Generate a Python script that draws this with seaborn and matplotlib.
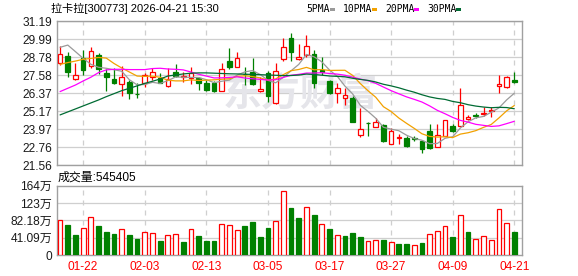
import numpy as np
import pandas as pd
import matplotlib
matplotlib.use("Agg")
import matplotlib.pyplot as plt
import seaborn as sns
from matplotlib.patches import Rectangle

# ---------------- data ----------------
title_text = "拉卡拉[300773] 2026-04-21 15:30"
volume_label = "成交量:545405"

opens = [28.38, 28.87, 27.36, 28.72, 28.20, 28.94, 27.76, 27.31, 26.98, 27.16,
         26.34, 27.09, 27.49, 27.42, 26.89, 27.80, 27.47, 27.38, 27.38, 27.09,
         27.04, 26.55, 28.54, 28.11, 27.69, 27.78, 26.51, 27.71, 25.75, 28.67,
         30.05, 28.69, 28.92, 29.01, 27.94, 27.20, 26.38, 26.04, 26.04, 23.59,
         24.42, 24.10, 24.24, 22.97, 23.37, 23.41, 23.37, 23.19, 23.86, 22.79,
         23.52, 24.17, 24.19, 24.64, 24.95, 25.00, 25.19, 26.87, 26.82, 27.27]
highs = [29.54, 29.12, 28.38, 29.27, 29.45, 29.10, 27.98, 28.09, 28.20, 27.27,
         27.09, 27.71, 28.05, 27.71, 28.05, 28.34, 27.82, 28.11, 27.49, 27.27,
         27.22, 28.38, 29.38, 29.12, 28.16, 28.72, 27.49, 27.89, 28.38, 30.05,
         30.39, 29.67, 30.28, 29.27, 28.78, 27.27, 27.09, 26.71, 26.20, 25.37,
         24.44, 24.75, 24.30, 24.04, 23.63, 23.52, 23.52, 23.25, 24.33, 24.30,
         24.59, 24.33, 26.71, 24.93, 25.04, 25.44, 25.44, 27.60, 27.53, 27.82]
lows = [28.27, 27.49, 27.27, 27.60, 28.09, 27.65, 26.55, 27.00, 26.22, 25.97,
        26.04, 26.78, 27.27, 27.04, 26.82, 27.45, 27.16, 27.00, 26.60, 26.55,
        26.46, 26.55, 27.98, 28.11, 26.93, 26.93, 26.46, 25.82, 25.66, 28.56,
        28.56, 28.60, 28.83, 26.75, 27.60, 26.33, 25.75, 25.60, 24.48, 23.43,
        23.52, 24.10, 23.14, 22.97, 22.99, 22.81, 23.21, 22.41, 22.68, 22.79,
        23.52, 23.77, 24.19, 24.59, 24.71, 24.86, 24.82, 26.38, 26.75, 27.04]
closes = [29.01, 27.82, 27.58, 27.94, 29.23, 28.00, 27.49, 27.09, 27.45, 26.38,
          26.31, 27.58, 27.82, 27.09, 27.31, 27.53, 27.50, 27.76, 27.04, 26.60,
          26.53, 27.98, 28.14, 28.72, 27.65, 27.00, 26.64, 26.20, 27.89, 29.50,
          29.16, 28.78, 29.54, 27.09, 27.82, 26.42, 26.71, 26.24, 24.48, 24.01,
          24.37, 24.44, 23.21, 23.86, 23.48, 22.88, 23.33, 22.63, 22.70, 23.57,
          24.59, 23.86, 25.57, 24.77, 24.88, 25.06, 25.26, 27.00, 27.45, 27.13]
volumes = [82, 71, 47, 65, 91, 69, 54, 50, 61, 47,
           38, 54, 52, 34, 47, 49, 31, 61, 45, 34,
           34, 73, 71, 59, 69, 78, 43, 64, 80, 151,
           111, 88, 113, 95, 73, 61, 47, 45, 52, 43,
           33, 35, 35, 31, 26, 26, 23, 28, 50, 58,
           68, 43, 95, 54, 39, 44, 35, 108, 77, 54.5405]  # 万

# moving-average values on the first bars (history before the window)
ma5_head = [29.45, 29.60, 29.16, 28.71]
ma10_head = [28.31, 28.43, 28.53, 28.65, 28.71, 28.77, 28.73, 28.37, 28.07]
ma20_head = [26.49, 26.71, 26.93, 27.20, 27.45, 27.76, 27.94, 27.98, 27.98, 27.96,
             27.96, 27.96, 28.03, 28.05, 28.00, 27.98, 27.94, 27.80, 27.65]
ma30_head = [24.93, 25.13, 25.33, 25.53, 25.73, 25.93, 26.15, 26.35, 26.55, 26.71,
             26.87, 27.04, 27.18, 27.33, 27.53, 27.60, 27.67, 27.72, 27.74, 27.74,
             27.72, 27.70, 27.68, 27.67, 27.65, 27.64, 27.62, 27.60, 27.58]

tick_pos = [3, 11, 19, 27, 35, 43, 51, 59]
tick_labels = ["01-22", "02-03", "02-13", "03-05", "03-17", "03-27", "04-09", "04-21"]
price_ticks = [21.56, 22.76, 23.97, 25.17, 26.37, 27.58, 28.78, 29.99, 31.19]
price_tick_labels = ["21.56", "22.76", "23.97", "25.17", "26.37", "27.58", "28.78", "29.99", "31.19"]
vol_ticks = [0, 41.09, 82.18, 123.27, 164.36]
vol_tick_labels = ["0", "41.09万", "82.18万", "123万", "164万"]
ma_names = ["5PMA", "10PMA", "20PMA", "30PMA"]
ma_windows = [5, 10, 20, 30]
ma_colors = ["#9a9a9a", "#f2a100", "#ff00ff", "#006b33"]

# ---------------- styling ----------------
sns.set_style("white")
SANS = ["Liberation Sans", "Noto Sans CJK SC"]
MONO = ["DejaVu Sans Mono", "Noto Sans CJK SC"]
plt.rcParams["font.family"] = SANS
RED = "#ff0000"
GREEN = "#008000"
GRID = "#cfcfcf"
SPINE = "#a0a0a0"
TXT = "#1a1a1a"

W, H = 578, 276
fig = plt.figure(figsize=(W / 100, H / 100), dpi=100)
fig.patch.set_facecolor("white")
ax = fig.add_axes([57 / W, 1 - 165.3 / H, 465 / W, 144 / H])
axv = fig.add_axes([57 / W, 1 - 255 / H, 465 / W, 69.3 / H])

n = len(closes)
x = np.arange(n)
o = np.array(opens); h = np.array(highs); l = np.array(lows); c = np.array(closes)
up = c >= o

# ---------------- price panel ----------------
for yv in price_ticks:
    ax.axhline(yv, color=GRID, lw=0.9, zorder=0)
for tp in tick_pos:
    ax.axvline(tp, color=GRID, lw=0.9, ls=(0, (4, 4)), zorder=0)

ax.text(31.2, 26.25, "东方财富", fontsize=28, color="#e5e5ea", ha="center", va="center",
        family=["Noto Sans CJK SC"], fontweight="bold", zorder=1)

cols = np.where(up, RED, GREEN)
ax.vlines(x, l, h, colors=cols, lw=0.9, zorder=3)
bottoms = np.minimum(o, c)
heights = np.maximum(np.abs(c - o), 0.03)
ax.bar(x, heights, bottom=bottoms, width=0.6,
       color=np.where(up, "white", GREEN), edgecolor=cols, lw=0.9, zorder=4)

cs = pd.Series(closes)
heads = [ma5_head, ma10_head, ma20_head, ma30_head]
for win, head, col in zip(ma_windows, heads, ma_colors):
    m = cs.rolling(win).mean().to_numpy()
    m[:len(head)] = head
    sns.lineplot(x=x, y=m, ax=ax, color=col, lw=0.9, legend=False, zorder=5)

ax.set_xlim(-0.4, 60)
ax.set_ylim(21.56, 31.19)
ax.set_yticks(price_ticks, labels=price_tick_labels)
ax.set_xticks(tick_pos, labels=[])
ax.tick_params(axis="both", length=0, pad=3.6, labelsize=8.6, labelcolor=TXT)
for s in ax.spines.values():
    s.set_color(SPINE); s.set_linewidth(1)

# ---------------- volume panel ----------------
for yv in vol_ticks[1:-1]:
    axv.axhline(yv, color=GRID, lw=0.9, zorder=0)
for tp in tick_pos:
    axv.axvline(tp, color=GRID, lw=0.9, ls=(0, (4, 4)), zorder=0)

vol_up = np.r_[up[0], np.diff(c) > 0]
vdf = pd.DataFrame({"i": x, "vol": volumes})
sns.barplot(data=vdf, x="i", y="vol", ax=axv, width=0.62, color="white", errorbar=None)
for p, u in zip(axv.patches, vol_up):
    p.set_facecolor("white" if u else GREEN)
    p.set_edgecolor(RED if u else GREEN)
    p.set_linewidth(0.9)
    p.set_zorder(3)

axv.set_xlim(-0.4, 60)
axv.set_ylim(0, 164.36)
axv.set_yticks(vol_ticks, labels=vol_tick_labels)
axv.set_xticks(tick_pos, labels=tick_labels)
axv.set_xlabel(""); axv.set_ylabel("")
axv.tick_params(axis="y", length=0, pad=3.6, labelsize=8.6, labelcolor=TXT)
axv.tick_params(axis="x", length=0, pad=4, labelsize=8.6, labelcolor=RED)
for s in axv.spines.values():
    s.set_color(SPINE); s.set_linewidth(1)

# ---------------- header texts ----------------
fig.text(50.5 / W, 1 - 8.5 / H, title_text, ha="left", va="center", fontsize=8, color="black")
fig.text(58 / W, 1 - 178 / H, volume_label, ha="left", va="center", fontsize=8.6, color="black")

leg_text_x = [306, 343, 385, 427]
leg_sq_x = [330, 372, 414, 456]
for name, col, tx, sx in zip(ma_names, ma_colors, leg_text_x, leg_sq_x):
    fig.text(tx / W, 1 - 8.5 / H, name, ha="left", va="center", fontsize=7, color="black", family=MONO)
    fig.add_artist(Rectangle((sx / W, 1 - 11 / H), 5 / W, 3.5 / H, transform=fig.transFigure,
                             facecolor=col, edgecolor="none"))

fig.savefig("out.png", dpi=100, facecolor="white")
